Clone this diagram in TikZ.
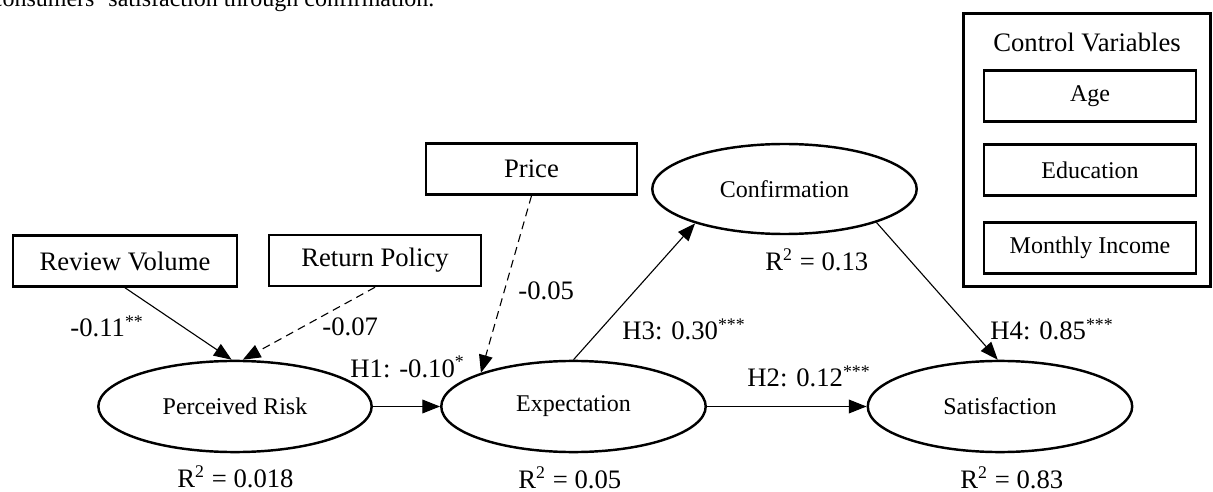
\documentclass[tikz,border=0pt]{standalone}
\usepackage{fontspec}
\setmainfont{Liberation Serif}
\usetikzlibrary{shapes.geometric,arrows.meta}
\begin{document}
\begin{tikzpicture}[x=0.45pt,y=-0.45pt,
    big/.style={font=\fontsize{12}{14}\selectfont},
    little/.style={font=\fontsize{10.8}{13}\selectfont},
    obs/.style={draw,rectangle,line width=1.1pt,minimum height=23pt,big},
    ctrlitem/.style={obs,little,minimum width=95.4pt},
    latent/.style={draw,ellipse,line width=1.1pt,minimum width=119pt,minimum height=41pt,inner sep=0pt,little},
    coef/.style={big,anchor=base west,inner sep=0pt},
    link/.style={line width=0.5pt,-{Triangle[length=8pt,width=6.2pt]}},
    weak/.style={link,dash pattern=on 3.6pt off 2.4pt}]
\useasboundingbox (0,0) rectangle (1213,492);

\node[little,anchor=base west,inner sep=0pt] (caption) at (-8.6,7) {consumers’ satisfaction through confirmation.};

\node[obs,minimum width=101pt] (rv) at (125,261) {Review Volume};
\node[obs,minimum width=95.5pt] (rp) at (375,260.5) {Return Policy};
\node[obs,minimum width=95pt] (price) at (531.5,169) {Price};

\node[latent,minimum width=123pt] (pr) at (235,406.5) {Perceived Risk};
\node[latent] (exp) at (573.5,406.5) {Expectation};
\node[latent,minimum height=40.5pt] (conf) at (784.5,189) {Confirmation};
\node[latent] (sat) at (1000,406.5) {Satisfaction};

\node[draw,line width=1.1pt,minimum width=111pt,minimum height=123pt] (ctrl) at (1087,150) {};
\node[big,inner sep=0pt] (ctrltitle) at (1087,42) {Control Variables};
\node[ctrlitem] (age) at (1090,96) {Age};
\node[ctrlitem] (edu) at (1090,170) {Education};
\node[ctrlitem] (inc) at (1090,248) {Monthly Income};

\draw[link] (rv.south) -- ([xshift=-1.5pt]pr.north);
\draw[weak] (rp.south) -- ([xshift=3.5pt]pr.north);
\draw[weak] (price.south) -- (exp.160);
\draw[link] (pr.east) -- (exp.west);
\draw[link] (exp.north) -- (conf.201);
\draw[link] (exp.east) -- (sat.west);
\draw[link] (conf.-20) -- ([xshift=-1pt]sat.north);

\node[coef] (c1) at (70,337) {-0.11\textsuperscript{**}};
\node[coef] (c2) at (322,335) {-0.07};
\node[coef] (h1) at (350,377) {H1: -0.10\textsuperscript{*}};
\node[coef] (c3) at (518,300) {-0.05};
\node[coef] (h3) at (622,340) {H3: 0.30\textsuperscript{***}};
\node[coef] (h2) at (747,387) {H2: 0.12\textsuperscript{***}};
\node[coef] (h4) at (990,340) {H4: 0.85\textsuperscript{***}};

\node[coef] (r1) at (177,487) {R\textsuperscript{2} = 0.018};
\node[coef] (r2) at (518,488) {R\textsuperscript{2} = 0.05};
\node[coef] (r3) at (765,270) {R\textsuperscript{2} = 0.13};
\node[coef] (r4) at (960,488) {R\textsuperscript{2} = 0.83};
\end{tikzpicture}
\end{document}
